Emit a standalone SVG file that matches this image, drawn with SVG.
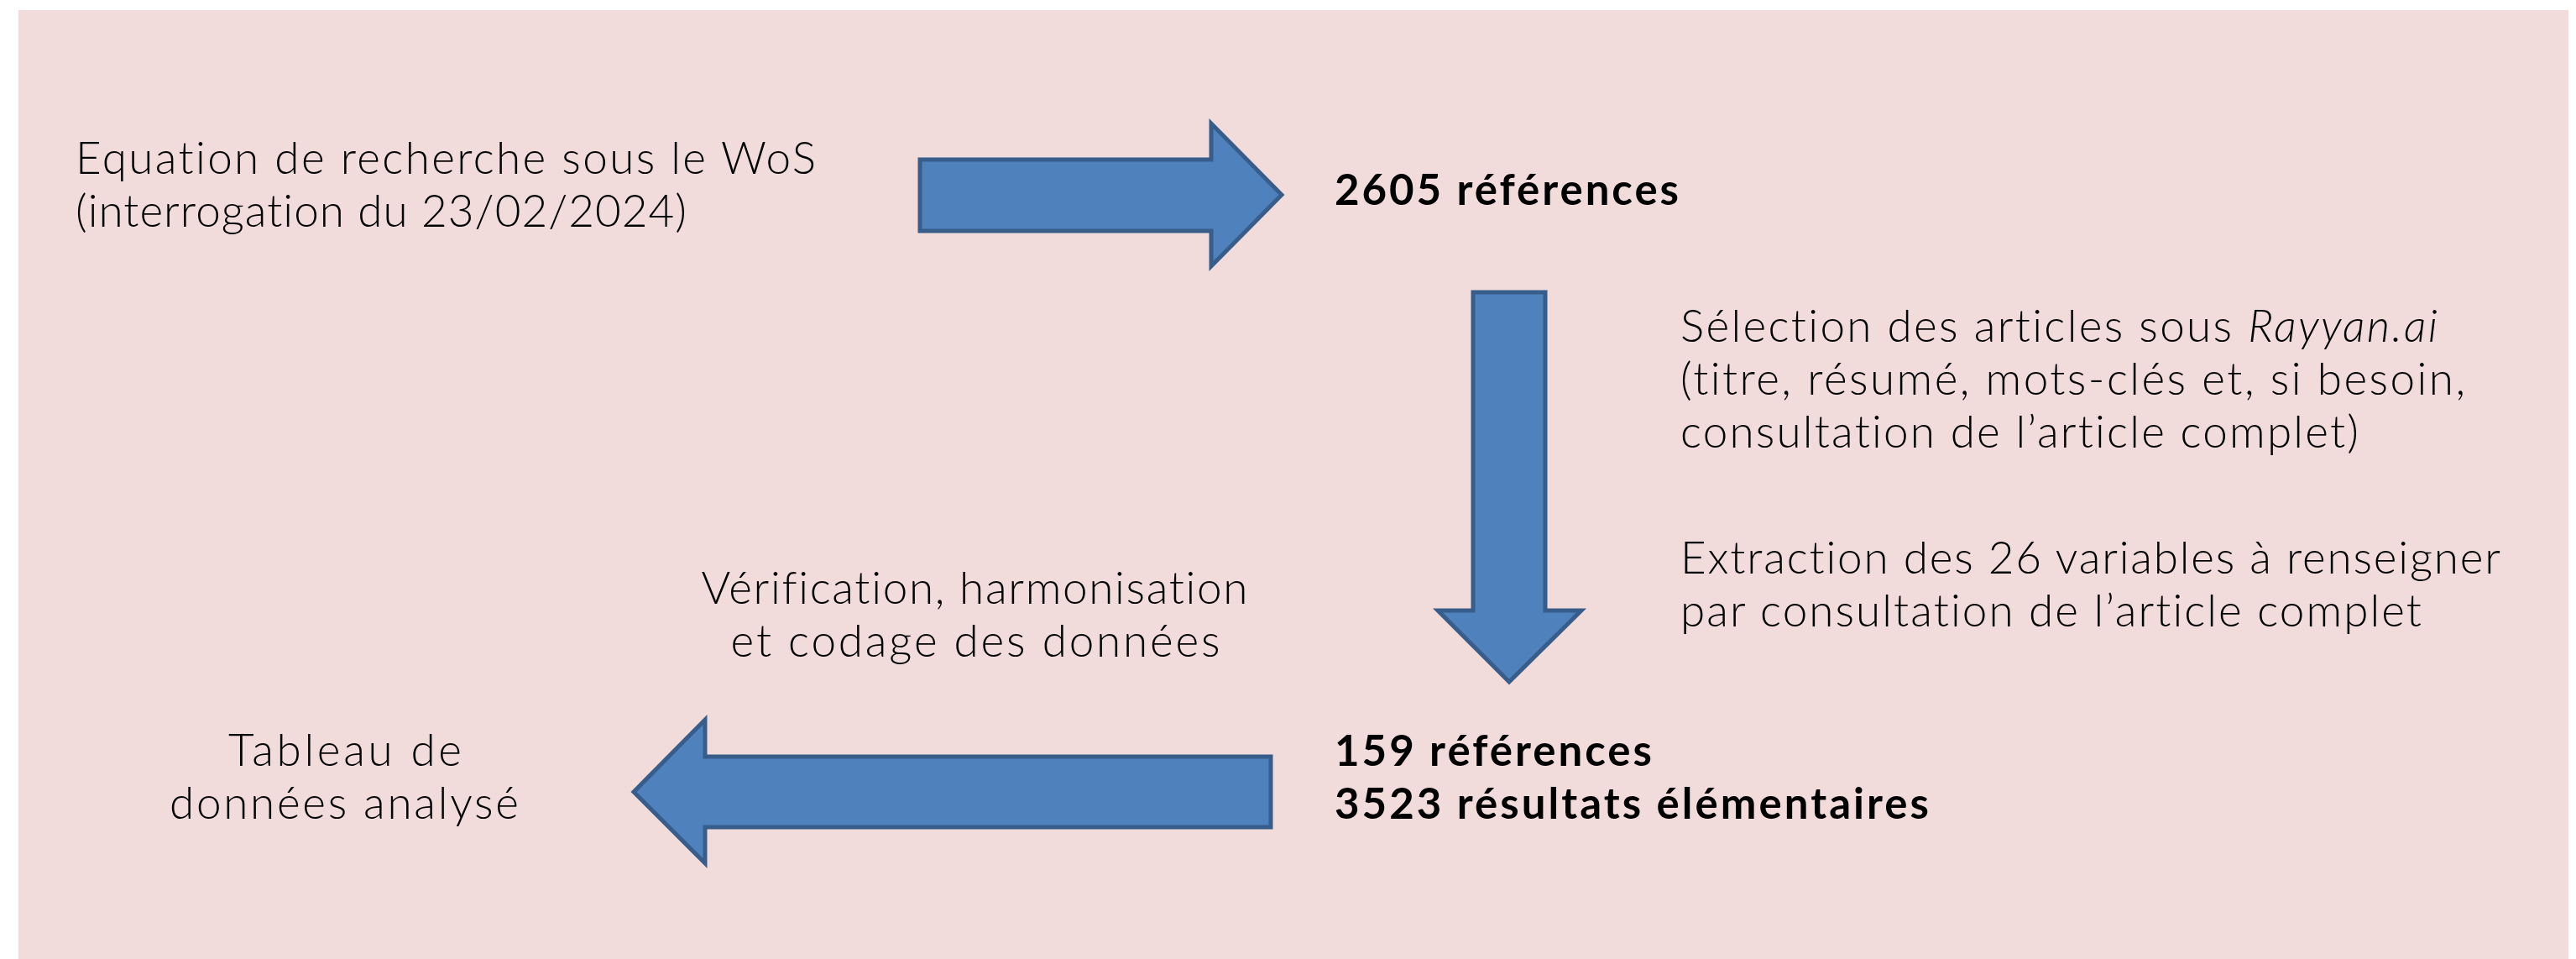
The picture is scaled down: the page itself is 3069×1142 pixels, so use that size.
<svg xmlns="http://www.w3.org/2000/svg" width="3069" height="1142" viewBox="0 0 3069 1142">
<style>
text{font-variant-ligatures:none;font-feature-settings:"liga" 0,"clig" 0,"dlig" 0}
.t{font-family:Lato,"Open Sans","Liberation Sans",sans-serif;font-weight:300;font-size:53px;fill:#000}
.b{font-family:Lato,"Open Sans","Liberation Sans",sans-serif;font-weight:700;font-size:51px;fill:#000}
.c{text-anchor:middle}
.arr{fill:#4F81BD;stroke:#385D8A;stroke-width:5;stroke-linejoin:miter}
</style>
<rect x="0" y="0" width="3069" height="1142" fill="#FFFFFF"/>
<rect x="22" y="12" width="3038" height="1130" fill="#F2DCDB"/>
<g id="connectors">
<polygon class="arr" points="1096,190 1443,190 1443,147 1527,232 1443,317 1443,275 1096,275"/>
<polygon class="arr" points="1755,348 1841,348 1841,727 1884,727 1798,812 1713,727 1755,727"/>
<polygon class="arr" points="1514,901 840,901 840,857 755,943 840,1028 840,985 1514,985"/>
</g>
<g id="node-equation">
<text class="t" x="90" y="207" textLength="882">Equation de recherche sous le WoS</text>
<text class="t" x="90" y="270" textLength="728">(interrogation du 23/02/2024)</text>
</g>
<g id="node-2605">
<text class="b" x="1590" y="244" textLength="410">2605 références</text>
</g>
<g id="node-selection">
<text class="t" x="2002" y="407" textLength="902">Sélection des articles sous <tspan font-style="italic">Rayyan.ai</tspan></text>
<text class="t" x="2002" y="470" textLength="935">(titre, résumé, mots-clés et, si besoin,</text>
<text class="t" x="2002" y="533" textLength="808">consultation de l’article complet)</text>
</g>
<g id="node-extraction">
<text class="t" x="2002" y="683" textLength="977">Extraction des 26 variables à renseigner</text>
<text class="t" x="2002" y="746" textLength="883">par consultation de l’article complet</text>
</g>
<g id="node-verification">
<text class="t c" x="1161" y="719" textLength="651">Vérification, harmonisation</text>
<text class="t c" x="1162" y="782" textLength="583">et codage des données</text>
</g>
<g id="node-159">
<text class="b" x="1590" y="912" textLength="378">159 références</text>
<text class="b" x="1590" y="975" textLength="708">3523 résultats élémentaires</text>
</g>
<g id="node-tableau">
<text class="t c" x="411" y="912" textLength="278">Tableau de</text>
<text class="t c" x="410" y="975" textLength="416">données analysé</text>
</g>
</svg>
